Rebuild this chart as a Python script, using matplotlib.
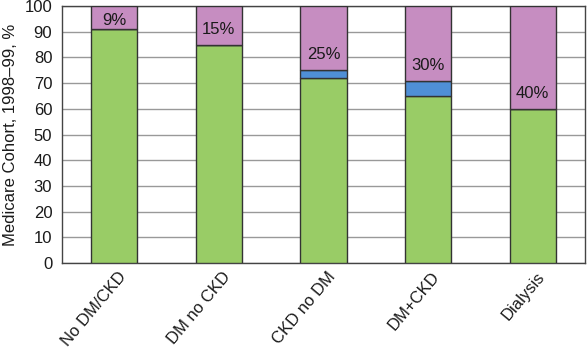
import matplotlib
matplotlib.use("Agg")
import matplotlib.pyplot as plt
import matplotlib.transforms as mtransforms
import numpy as np

categories = ["No DM/CKD", "DM no CKD", "CKD no DM", "DM+CKD", "Dialysis"]
green_vals = [91, 85, 72, 65, 60]
blue_vals = [0, 0, 3, 6, 0]
purple_vals = [9, 15, 25, 29, 40]
pct_labels = ["9%", "15%", "25%", "30%", "40%"]
yticks = list(range(0, 101, 10))

GREEN = "#99cc66"
BLUE = "#4f8fd6"
PURPLE = "#c68dc1"
EDGE = "#333333"
TXT = "#1a1a1a"
FS = 12

plt.rcParams["font.family"] = ["Liberation Sans", "DejaVu Sans"]

fig = plt.figure(figsize=(5.87, 3.55), dpi=100)
ax = fig.add_axes([0.1056, 0.2592, 0.891, 0.7238])

x = np.arange(len(categories))
w = 0.44
green = np.array(green_vals)
blue = np.array(blue_vals)
purple = np.array(purple_vals)

ax.bar(x, green, w, color=GREEN, edgecolor=EDGE, linewidth=1.0, zorder=3)
ax.bar(x, blue, w, bottom=green, color=BLUE, edgecolor=EDGE, linewidth=1.0, zorder=3)
ax.bar(x, purple, w, bottom=green + blue, color=PURPLE, edgecolor=EDGE, linewidth=1.0, zorder=3)

for xi, b, p, lab in zip(x, green + blue, purple, pct_labels):
    ax.text(xi, b + min(6, p / 2 - 1), lab, ha="center", va="center",
            fontsize=FS, color=TXT, zorder=4)

ax.set_xlim(-0.5, len(categories) - 0.5)
ax.set_ylim(0, 100)
ax.set_yticks(yticks)
ax.yaxis.grid(True, color="#999999", linewidth=1.0, zorder=0)
ax.set_axisbelow(True)
for s in ax.spines.values():
    s.set_color("#444444")
    s.set_linewidth(1.0)
ax.tick_params(axis="y", length=0, pad=7, labelsize=FS, labelcolor=TXT)
ax.tick_params(axis="x", length=0)

ax.set_xticks(x)
ax.set_xticklabels(categories, rotation=50, ha="right", va="center",
                   rotation_mode="anchor", fontsize=FS, color=TXT)
offset = mtransforms.ScaledTranslation(9 / 100, -6 / 100, fig.dpi_scale_trans)
for lbl in ax.get_xticklabels():
    lbl.set_transform(lbl.get_transform() + offset)

ax.set_ylabel("Medicare Cohort, 1998\u201399, %", fontsize=FS, color=TXT, labelpad=5)

fig.savefig("out.png", dpi=100)
